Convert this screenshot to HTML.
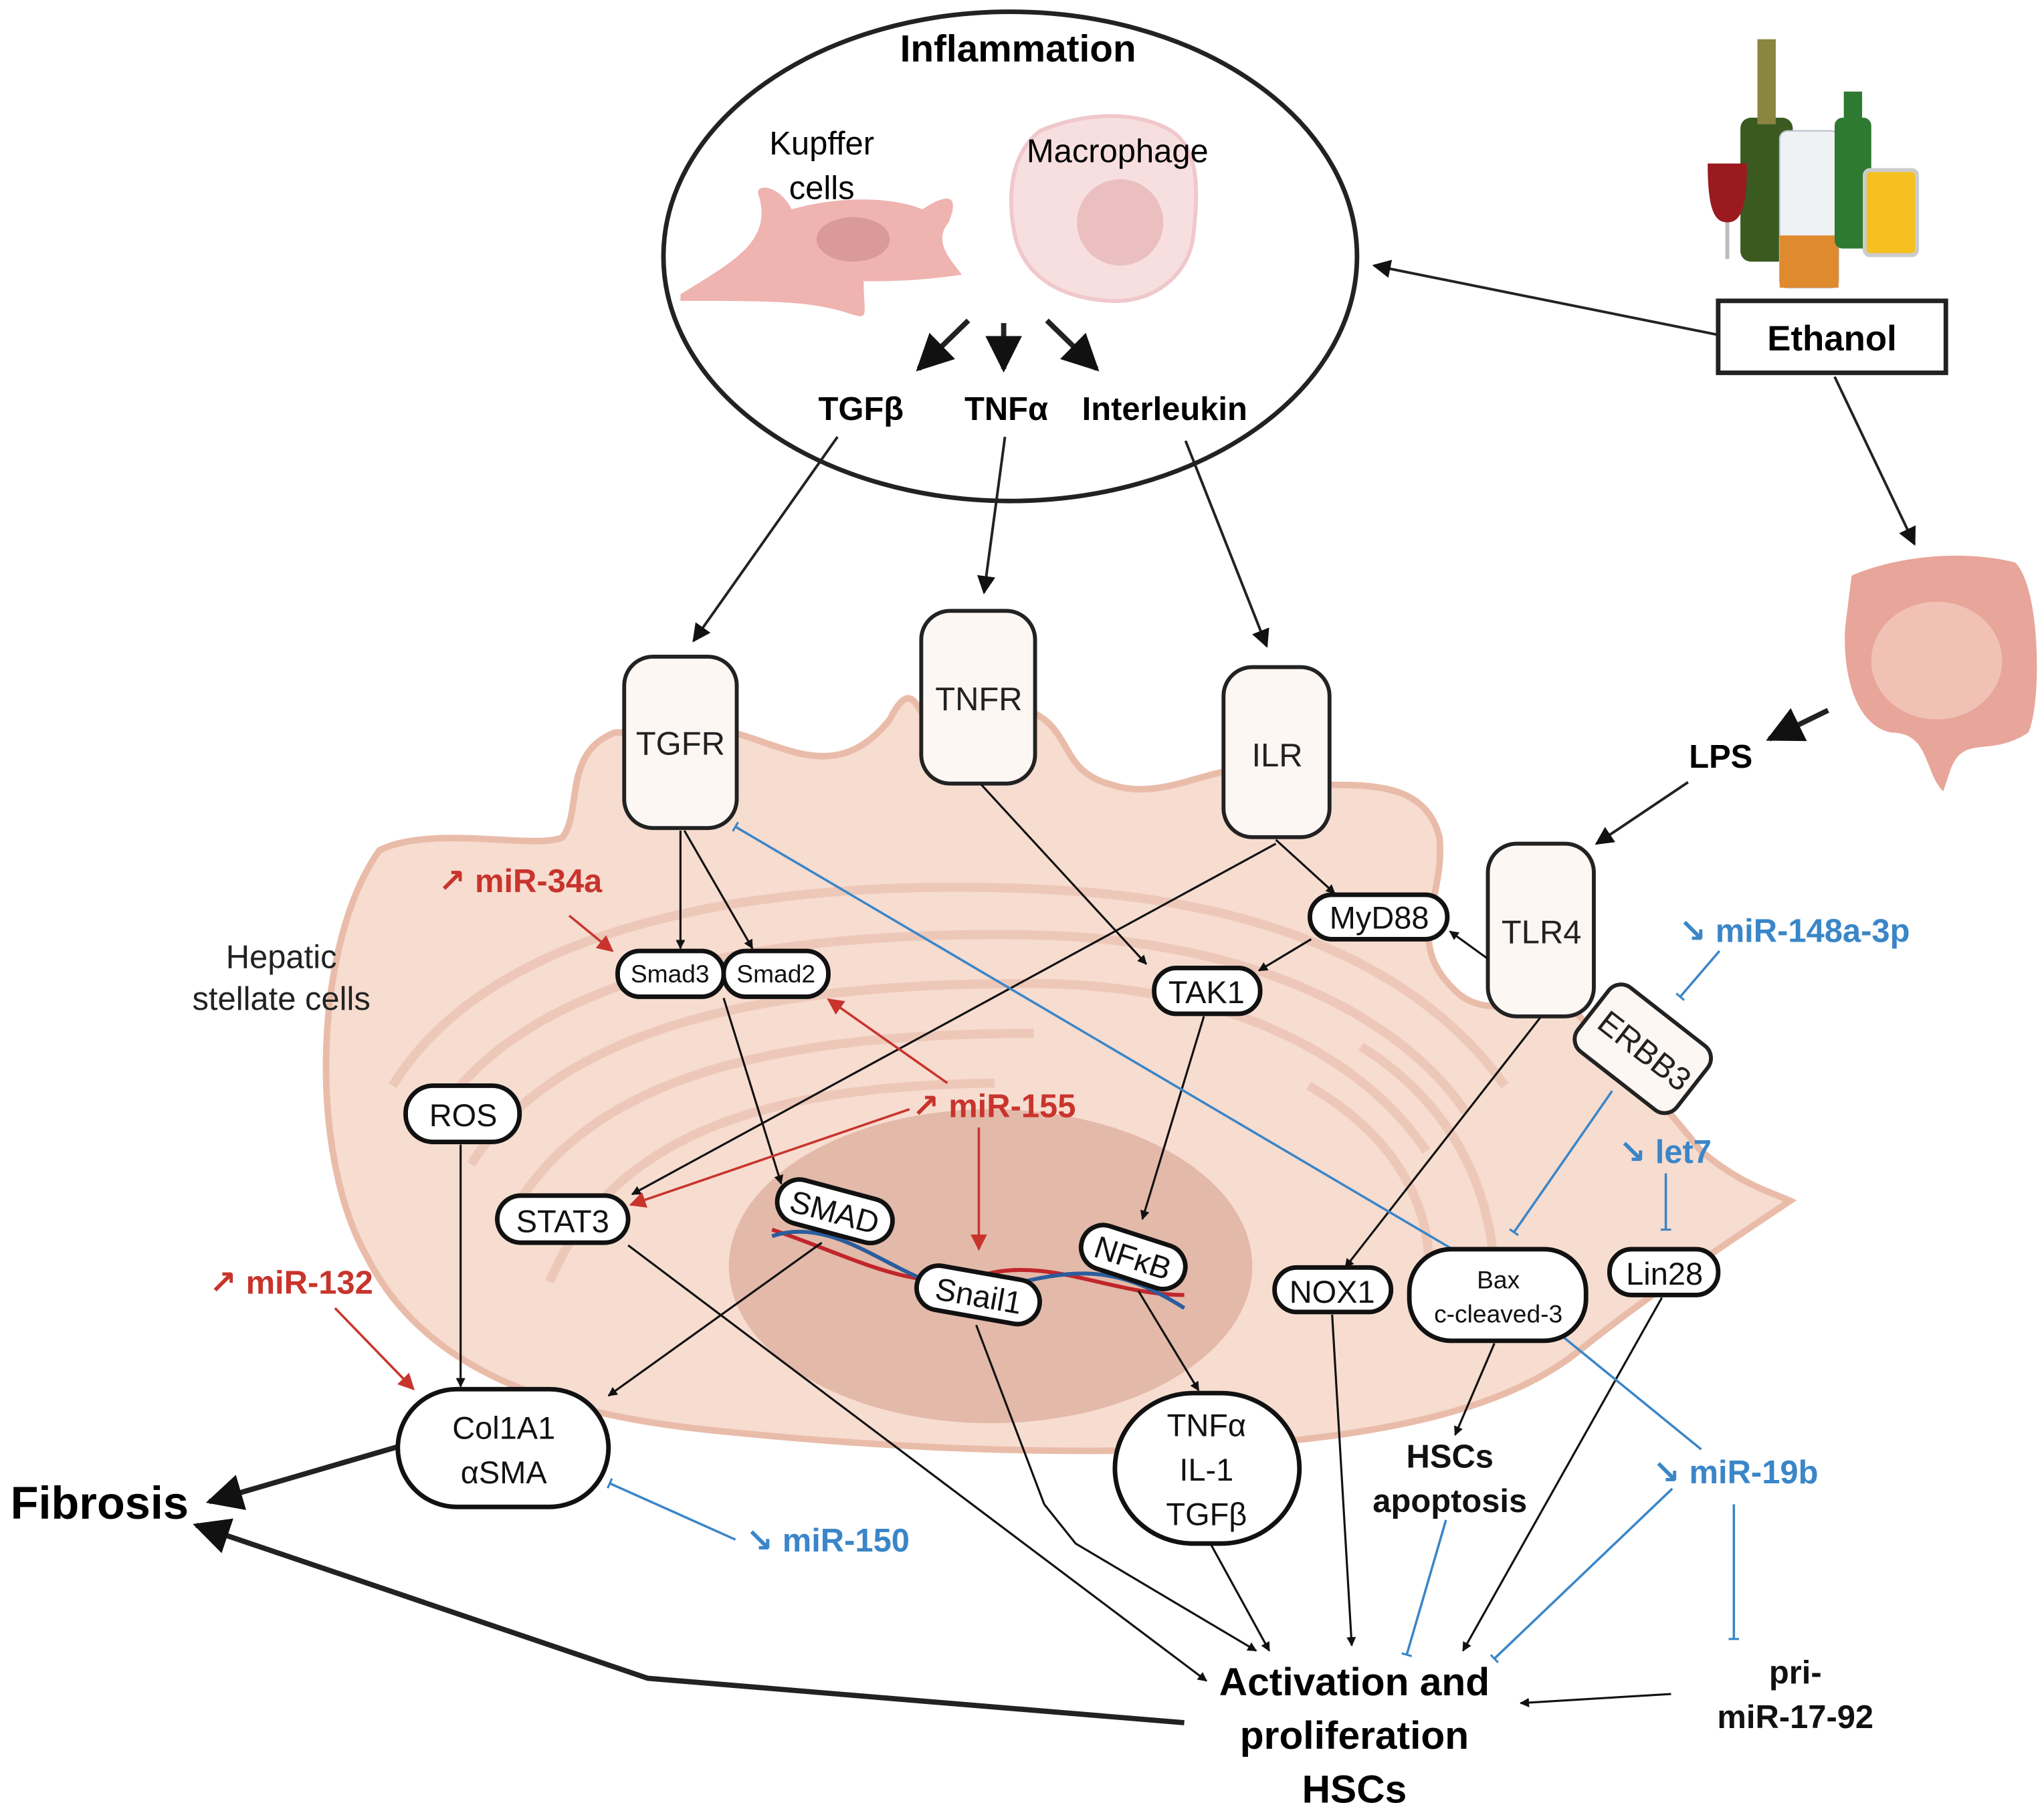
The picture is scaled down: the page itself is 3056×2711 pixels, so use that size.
<!DOCTYPE html>
<html><head><meta charset="utf-8"><style>
html,body{margin:0;padding:0;background:#fff}
svg{display:block}
text{font-family:"Liberation Sans","DejaVu Sans",sans-serif}
</style></head><body>
<svg width="3056" height="2711" viewBox="0 0 1562 1386" preserveAspectRatio="none" xmlns="http://www.w3.org/2000/svg">
<defs>
<marker id="a" viewBox="0 0 10 10" refX="9" refY="5" markerWidth="7" markerHeight="7" orient="auto-start-reverse"><path d="M0,0L10,5L0,10z" fill="#111"/></marker>
<marker id="ab" viewBox="0 0 10 10" refX="9" refY="5" markerWidth="4.5" markerHeight="4.5" orient="auto"><path d="M0,0L10,5L0,10z" fill="#111"/></marker>
<marker id="ar" viewBox="0 0 10 10" refX="9" refY="5" markerWidth="7" markerHeight="7" orient="auto"><path d="M0,0L10,5L0,10z" fill="#c8342c"/></marker>
<marker id="tb" viewBox="0 0 10 10" refX="5" refY="5" markerWidth="8" markerHeight="8" orient="auto" markerUnits="userSpaceOnUse"><path d="M5,-5L5,15" stroke="#3a86c8" stroke-width="2"/></marker>
</defs>
<!-- cell -->
<path d="M290,650 C330,630 410,650 430,640 C445,620 430,575 470,560 L560,560 C600,570 640,600 680,550 C695,520 700,540 705,545 L790,545 C820,560 810,590 850,600 C880,610 910,595 935,590 L1015,600 C1050,600 1090,600 1100,640 C1105,690 1070,720 1115,760 C1140,780 1170,760 1200,770 C1230,800 1260,830 1300,880 C1330,905 1350,910 1368,918 C1320,950 1260,990 1210,1030 C1150,1080 1050,1100 900,1108 C780,1112 660,1105 560,1095 C450,1085 330,1060 280,960 C235,880 240,720 290,650 Z" fill="#f7dcd0" stroke="#e9bca9" stroke-width="5"/>
<g fill="none" stroke="#ebc4b4" stroke-width="7" opacity="0.8">
<path d="M300,830 C380,700 600,670 800,680 C1000,690 1100,760 1150,830"/>
<path d="M330,860 C400,740 600,710 800,715 C980,722 1080,790 1120,850"/>
<path d="M360,890 C430,780 600,750 800,752 C960,756 1050,820 1090,880"/>
<path d="M390,930 C450,820 600,790 790,790"/>
<path d="M420,980 C470,860 600,830 760,828"/>
<path d="M1000,830 C1070,870 1100,930 1090,990"/>
<path d="M1040,800 C1120,850 1150,930 1140,1010"/>
</g>
<ellipse cx="757" cy="968" rx="200" ry="120" fill="#e3b9a9"/>
<path d="M590,940 C650,960 700,990 750,975 C800,960 850,990 905,990" stroke="#c0262b" stroke-width="3" fill="none"/>
<path d="M590,945 C650,925 700,1000 760,985 C820,970 850,965 905,1000" stroke="#2a5d9c" stroke-width="3" fill="none"/>
<!-- inflammation -->
<ellipse cx="772" cy="196" rx="265" ry="187" fill="#fff" stroke="#222" stroke-width="3.5"/>
<path d="M520,225 C560,200 590,185 580,150 C575,140 595,140 605,160 C640,150 680,150 705,160 C720,150 735,145 725,170 C712,185 728,200 735,210 C700,215 680,215 660,215 C660,240 665,245 650,240 C620,230 590,230 520,230 Z" fill="#efb3b0"/>
<ellipse cx="652" cy="183" rx="28" ry="17" fill="#d99a98"/>
<path d="M795,100 C830,85 870,85 895,100 C918,115 915,150 912,180 C908,212 880,232 848,230 C815,228 785,215 776,182 C768,145 775,115 795,100 Z" fill="#f7dfe0" stroke="#f0c8cc" stroke-width="3"/>
<circle cx="856" cy="170" r="33" fill="#ebbfc0"/>
<text x="778" y="47" font-size="29" font-weight="bold" text-anchor="middle">Inflammation</text>
<text x="628" y="118" font-size="25" text-anchor="middle">Kupffer</text>
<text x="628" y="152" font-size="25" text-anchor="middle">cells</text>
<text x="854" y="124" font-size="25" text-anchor="middle">Macrophage</text>
<g stroke="#222" stroke-width="4" fill="none" marker-end="url(#a)">
<line x1="740" y1="245" x2="702" y2="282"/>
<line x1="767" y1="247" x2="767" y2="282"/>
<line x1="800" y1="245" x2="838" y2="282"/>
</g>
<g font-size="25" font-weight="bold">
<text x="658" y="321" text-anchor="middle">TGFβ</text>
<text x="769" y="321" text-anchor="middle">TNFα</text>
<text x="890" y="321" text-anchor="middle">Interleukin</text>
</g>
<!-- ethanol -->
<rect x="1313" y="230" width="174" height="55" fill="#fff" stroke="#222" stroke-width="3.5"/>
<text x="1400" y="268" font-size="27" font-weight="bold" text-anchor="middle">Ethanol</text>
<rect x="1330" y="90" width="40" height="110" rx="8" fill="#3a5a20"/><rect x="1343" y="30" width="14" height="65" fill="#8a8540"/>
<rect x="1360" y="100" width="45" height="120" rx="6" fill="#eef2f4" stroke="#bbc" /><rect x="1360" y="180" width="45" height="40" fill="#e08a30"/>
<rect x="1402" y="90" width="28" height="100" rx="6" fill="#2e7a30"/><rect x="1409" y="70" width="14" height="25" fill="#2e7a30"/>
<rect x="1425" y="130" width="40" height="65" rx="4" fill="#f5c020" stroke="#ccc" stroke-width="3"/>
<path d="M1305,125 L1335,125 C1335,160 1330,170 1320,170 C1310,170 1305,160 1305,125Z" fill="#9a1a20"/>
<line x1="1320" y1="170" x2="1320" y2="198" stroke="#bbb" stroke-width="3"/>
<g stroke="#222" stroke-width="2" fill="none" marker-end="url(#a)">
<line x1="1313" y1="256" x2="1050" y2="203"/>
<line x1="1402" y1="288" x2="1463" y2="416"/>
<line x1="1397" y1="543" x2="1352" y2="565" stroke-width="4"/>
<line x1="1290" y1="598" x2="1220" y2="645"/>
<line x1="640" y1="334" x2="530" y2="490"/>
<line x1="768" y1="334" x2="752" y2="453"/>
<line x1="906" y1="337" x2="968" y2="494"/>
</g>
<!-- intestine -->
<path d="M1415,440 C1450,425 1500,420 1540,430 C1560,450 1560,540 1550,560 C1520,580 1500,560 1490,590 L1485,605 C1470,590 1475,560 1445,560 C1420,555 1408,520 1410,480 Z" fill="#e8a59a"/>
<ellipse cx="1480" cy="505" rx="50" ry="45" fill="#f1c1b6"/>
<text x="1315" y="587" font-size="25" font-weight="bold" text-anchor="middle">LPS</text>
<!-- receptors -->
<g fill="#fdf7f4" stroke="#222" stroke-width="3">
<rect x="477" y="502" width="86" height="131" rx="22"/>
<rect x="704" y="467" width="87" height="132" rx="22"/>
<rect x="935" y="510" width="81" height="130" rx="22"/>
<rect x="1137" y="645" width="81" height="132" rx="22"/>
<rect x="1207" y="772" width="96" height="62" rx="12" transform="rotate(38 1257 803)"/>
</g>
<g font-size="25" fill="#222" text-anchor="middle">
<text x="520" y="577">TGFR</text><text x="748" y="543">TNFR</text><text x="976" y="586">ILR</text><text x="1178" y="721">TLR4</text>
<text x="1257" y="812" transform="rotate(38 1257 803)">ERBB3</text>
<text x="215" y="740">Hepatic</text><text x="215" y="772">stellate cells</text>
</g>
<!-- black arrows -->
<g stroke="#111" stroke-width="1.6" fill="none" marker-end="url(#ab)">
<line x1="520" y1="635" x2="520" y2="725"/>
<line x1="523" y1="635" x2="575" y2="725"/>
<line x1="750" y1="600" x2="876" y2="737"/>
<line x1="975" y1="642" x2="1020" y2="683"/>
<line x1="975" y1="645" x2="483" y2="913"/>
<line x1="1002" y1="718" x2="962" y2="742"/>
<line x1="1137" y1="733" x2="1108" y2="712"/>
<line x1="553" y1="763" x2="597" y2="905"/>
<line x1="920" y1="777" x2="873" y2="932"/>
<line x1="1177" y1="778" x2="1028" y2="969"/>
<line x1="352" y1="875" x2="352" y2="1060"/>
<line x1="628" y1="950" x2="465" y2="1067"/>
<line x1="870" y1="987" x2="916" y2="1063"/>
<line x1="480" y1="952" x2="922" y2="1285"/>
<line x1="746" y1="1013" x2="798" y2="1150" marker-end="none"/>
<polyline points="798,1150 822,1180 960,1262"/>
<line x1="925" y1="1180" x2="970" y2="1262"/>
<line x1="1018" y1="1005" x2="1033" y2="1258"/>
<line x1="1142" y1="1027" x2="1112" y2="1097"/>
<line x1="1270" y1="992" x2="1118" y2="1262"/>
<line x1="1277" y1="1295" x2="1162" y2="1302"/>
</g>
<g stroke="#222" stroke-width="4" fill="none" marker-end="url(#a)">
<line x1="304" y1="1106" x2="160" y2="1148"/>
<polyline points="905,1317 495,1283 150,1166"/>
</g>
<!-- red -->
<g stroke="#c8342c" stroke-width="1.8" fill="none" marker-end="url(#ar)">
<line x1="435" y1="700" x2="468" y2="727"/>
<line x1="724" y1="828" x2="633" y2="764"/>
<line x1="695" y1="848" x2="482" y2="921"/>
<line x1="748" y1="862" x2="748" y2="955"/>
<line x1="256" y1="1000" x2="316" y2="1062"/>
</g>
<!-- blue -->
<g stroke="#3a86c8" stroke-width="1.8" fill="none" marker-end="url(#tb)">
<line x1="1110" y1="955" x2="562" y2="632"/>
<line x1="1314" y1="727" x2="1284" y2="762"/>
<line x1="1232" y1="834" x2="1157" y2="942"/>
<line x1="1273" y1="897" x2="1273" y2="940"/>
<line x1="562" y1="1177" x2="466" y2="1134"/>
<line x1="1192" y1="1020" x2="1300" y2="1108" marker-end="none"/>
<line x1="1105" y1="1162" x2="1075" y2="1265"/>
<line x1="1278" y1="1138" x2="1142" y2="1268"/>
<line x1="1325" y1="1150" x2="1325" y2="1253"/>
</g>
<!-- nodes -->
<g fill="#fff" stroke="#111" stroke-width="3.5">
<rect x="472" y="727" width="81" height="35" rx="17"/>
<rect x="553" y="727" width="80" height="35" rx="17"/>
<rect x="1001" y="684" width="105" height="34" rx="17"/>
<rect x="882" y="740" width="81" height="35" rx="17"/>
<rect x="310" y="830" width="87" height="43" rx="21"/>
<rect x="380" y="914" width="100" height="36" rx="18"/>
<rect x="593" y="909" width="90" height="34" rx="17" transform="rotate(15 638 926)"/>
<rect x="700" y="973" width="95" height="34" rx="17" transform="rotate(10 748 990)"/>
<rect x="825" y="944" width="82" height="34" rx="17" transform="rotate(18 866 961)"/>
<rect x="974" y="969" width="89" height="34" rx="17"/>
<rect x="1077" y="955" width="135" height="70" rx="32"/>
<rect x="1230" y="955" width="83" height="35" rx="17"/>
<rect x="304" y="1062" width="161" height="90" rx="45"/>
<rect x="852" y="1065" width="141" height="115" rx="60"/>
</g>
<g font-size="24" fill="#111" text-anchor="middle">
<text x="512" y="751" font-size="19">Smad3</text><text x="593" y="751" font-size="19">Smad2</text>
<text x="1054" y="710">MyD88</text><text x="922" y="767">TAK1</text>
<text x="354" y="861">ROS</text><text x="430" y="942">STAT3</text>
<text x="638" y="935" transform="rotate(15 638 926)">SMAD</text>
<text x="748" y="999" transform="rotate(10 748 990)">Snail1</text>
<text x="866" y="970" transform="rotate(18 866 961)">NFκB</text>
<text x="1018" y="996">NOX1</text>
<text x="1145" y="985" font-size="19">Bax</text><text x="1145" y="1011" font-size="19">c-cleaved-3</text>
<text x="1272" y="982">Lin28</text>
<text x="385" y="1100">Col1A1</text><text x="385" y="1134">αSMA</text>
<text x="922" y="1098">TNFα</text><text x="922" y="1132">IL-1</text><text x="922" y="1166">TGFβ</text>
</g>
<g font-size="25" font-weight="bold">
<text x="335" y="682" fill="#c8342c">↗ miR-34a</text>
<text x="697" y="854" fill="#c8342c">↗ miR-155</text>
<text x="160" y="989" fill="#c8342c">↗ miR-132</text>
<text x="1283" y="720" fill="#3a86c8">↘ miR-148a-3p</text>
<text x="1237" y="889" fill="#3a86c8">↘ let7</text>
<text x="1263" y="1134" fill="#3a86c8">↘ miR-19b</text>
<text x="570" y="1186" fill="#3a86c8">↘ miR-150</text>
<text x="1108" y="1122" fill="#111" text-anchor="middle">HSCs</text>
<text x="1108" y="1156" fill="#111" text-anchor="middle">apoptosis</text>
<text x="1372" y="1287" fill="#111" text-anchor="middle">pri-</text>
<text x="1372" y="1321" fill="#111" text-anchor="middle">miR-17-92</text>
<text x="1035" y="1296" font-size="30" text-anchor="middle">Activation and</text>
<text x="1035" y="1337" font-size="30" text-anchor="middle">proliferation</text>
<text x="1035" y="1378" font-size="30" text-anchor="middle">HSCs</text>
<text x="8" y="1161" font-size="35">Fibrosis</text>
</g>
</svg>
</body></html>
